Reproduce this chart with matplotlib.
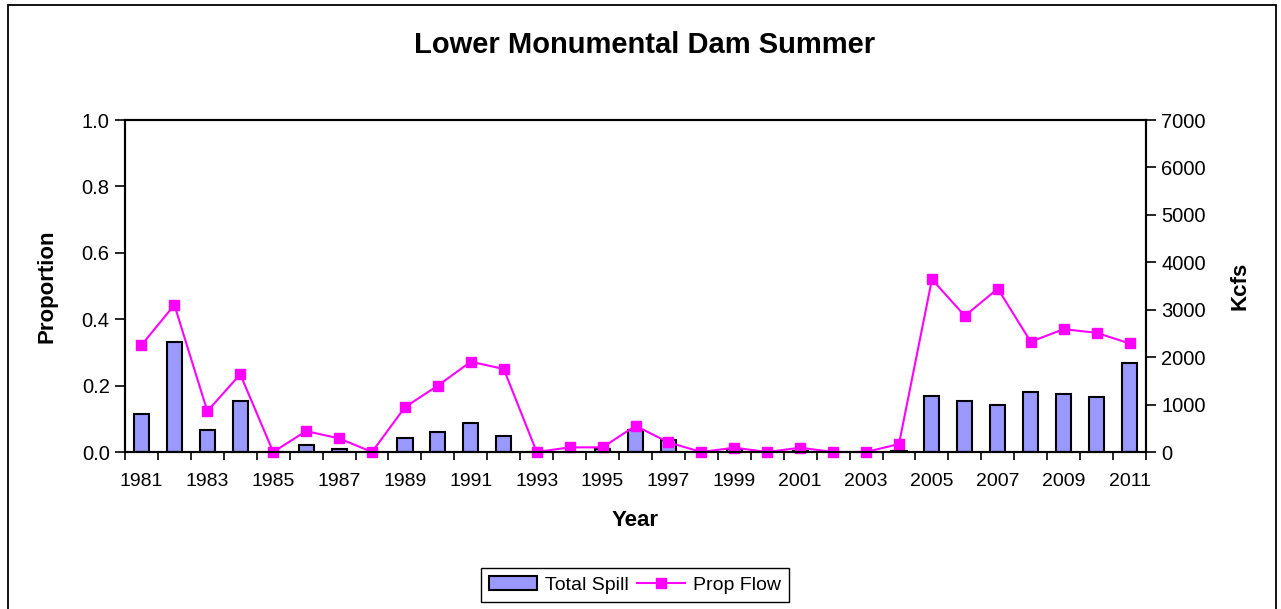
import matplotlib
matplotlib.use("Agg")
import matplotlib.pyplot as plt
from matplotlib.patches import Rectangle
import numpy as np

plt.rcParams['font.family'] = ['Liberation Sans', 'DejaVu Sans']

years = list(range(1981, 2012))
total_spill_kcfs = [800, 2310, 455, 1080, 0, 147, 63, 0, 300, 420, 610, 343,
                    0, 0, 56, 462, 260, 0, 56, 0, 14, 0, 0, 28,
                    1190, 1070, 995, 1267, 1225, 1155, 1876]
prop_flow = [0.322, 0.443, 0.123, 0.234, 0.0, 0.063, 0.041, 0.0, 0.135, 0.200,
             0.272, 0.250, 0.0, 0.014, 0.014, 0.079, 0.029, 0.0, 0.013, 0.0,
             0.013, 0.0, 0.0, 0.024, 0.520, 0.410, 0.492, 0.332, 0.370, 0.359, 0.327]
year_labels = [str(y) if (y - 1981) % 2 == 0 else "" for y in years]

W, H = 1281, 609
fig = plt.figure(figsize=(W / 100, H / 100), dpi=100)
fig.patch.set_facecolor('white')

# outer border
fig.patches.append(Rectangle((8 / W, -0.02), (1276 - 8) / W, 1 - 5 / H + 0.02,
                             transform=fig.transFigure, fill=False,
                             edgecolor='black', linewidth=1.3))

left, right, top, bottom = 125, 1146, 120, 452
ax = fig.add_axes([left / W, 1 - bottom / H, (right - left) / W, (bottom - top) / H])
ax2 = ax.twinx()
ax.set_zorder(ax2.get_zorder() + 1)
ax.patch.set_visible(False)

x = np.arange(len(years))
bars = ax2.bar(x, total_spill_kcfs, width=0.46, color='#9999FF',
               edgecolor='black', linewidth=1.5, label='Total Spill')
line, = ax.plot(x, prop_flow, color='#FF00FF', linewidth=1.5, marker='s',
                markersize=7.5, markerfacecolor='#FF00FF', markeredgecolor='#FF00FF',
                label='Prop Flow', clip_on=False)

ax.set_xlim(-0.5, len(years) - 0.5)
ax.set_ylim(0, 1.0)
ax2.set_ylim(0, 7000)
ax.set_yticks(np.arange(0, 1.01, 0.2))
ax.set_yticklabels([f"{v:.1f}" for v in np.arange(0, 1.01, 0.2)])
ax2.set_yticks(range(0, 7001, 1000))

ax.set_xticks(x)
ax.set_xticklabels(year_labels)
ax.set_xticks(np.arange(-0.5, len(years), 1.0), minor=True)
ax.tick_params(axis='x', which='major', length=0, pad=15, labelsize=14)
ax.tick_params(axis='x', which='minor', length=6, width=1.2, direction='out')
ax.tick_params(axis='y', length=7, width=1.2, direction='out', labelsize=14.5, pad=4)
ax2.tick_params(axis='y', length=7, width=1.2, direction='out', labelsize=14.5, pad=4)

for a in (ax, ax2):
    for s in a.spines.values():
        s.set_linewidth(1.5)
        s.set_color('black')

ax.set_ylabel('Proportion', fontsize=16, fontweight='bold')
ax.yaxis.set_label_coords((47 - left) / (right - left), 0.5)
ax2.set_ylabel('Kcfs', fontsize=16, fontweight='bold')
ax2.yaxis.set_label_coords((1240 - left) / (right - left), 0.5)
ax.set_xlabel('Year', fontsize=16, fontweight='bold')
ax.xaxis.set_label_coords(0.5, (bottom - 521) / (bottom - top))
ax.xaxis.label.set_va('center')
ax.yaxis.label.set_va('center')
ax2.yaxis.label.set_va('center')

fig.text(645 / W, 1 - 45 / H, 'Lower Monumental Dam Summer', ha='center',
         va='center', fontsize=21, fontweight='bold')

leg = fig.legend([bars, line], ['Total Spill', 'Prop Flow'], loc='center',
                 bbox_to_anchor=(635 / W, 1 - 585 / H), ncol=2, fontsize=14,
                 frameon=True, fancybox=False, edgecolor='black', framealpha=1,
                 handlelength=2.5, columnspacing=0.4, handletextpad=0.4,
                 borderpad=0.4)
leg.get_frame().set_linewidth(1.0)

fig.savefig('out.png', dpi=100)
